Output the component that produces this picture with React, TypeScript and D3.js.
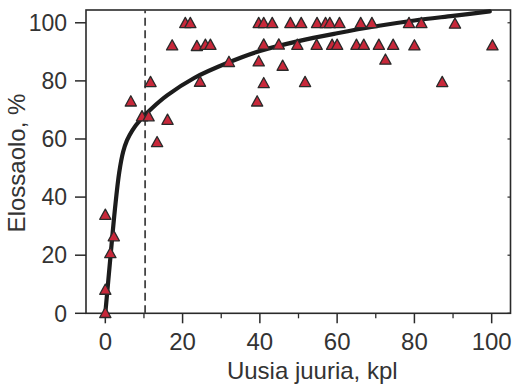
import React from "react";
import * as d3 from "d3";

const xTicks = [0, 20, 40, 60, 80, 100];
const xMinorTicks = [10, 30, 50, 70, 90];
const yTicks = [0, 20, 40, 60, 80, 100];

const xLabel = "Uusia juuria, kpl";
const yLabel = "Elossaolo, %";

// observed survival points (x = new roots, y = survival %)
const obsX = [
  20.7, 22, 39.7, 41, 43.2, 47.9, 50.7, 54.8, 57, 58.1, 60.6, 66.1, 69, 78.6, 81.8, 90.5,
  17.3, 23.7, 25.9, 27.2, 41, 44.9, 49.7, 54.7, 58.7, 60, 65, 66.9, 70.8, 74.5, 80, 100.2,
  0, 0, 1.3, 2.2, 0, 13.4, 6.6, 9.5, 11.2, 16.1, 11.7, 24.5, 32, 39.7, 45.9, 41, 39.3, 51.7,
  72.5, 87.2,
];
const obsY = [
  99.8, 99.8, 99.8, 99.8, 99.8, 99.8, 99.8, 99.8, 99.8, 99.8, 99.8, 99.8, 99.8, 99.8, 99.8, 99.6,
  92.1, 91.9, 92.3, 92.3, 92.4, 92.4, 92.3, 92.3, 92.3, 92.3, 92.3, 92.3, 92.3, 92.3, 92.1, 92.1,
  0, 8, 20.6, 26.4, 33.8, 58.8, 72.8, 67.7, 67.7, 66.5, 79.5, 79.6, 86.4, 86.6, 85.1, 79.1, 72.8, 79.5,
  87.2, 79.5,
];

// fitted curve
const fitX = [0, 1.3, 2.5, 3.6, 4.6, 5.6, 7, 9, 12, 16, 23, 32, 40, 50, 60, 70, 80, 90, 99.5];
const fitY = [0, 19, 36, 48.5, 55.5, 59.5, 63, 66.5, 70.5, 75, 81, 86.4, 90.3, 93.7, 96.4, 98.8, 100.8, 102.4, 103.9];

const thresholdX = 10.3;

export default function App() {
  const W = 512;
  const H = 387;
  const left = 86, right = 510.5, top = 10, bottom = 313.3;

  const x = d3.scaleLinear().domain([-5, 105]).range([left, right + 0.5]);
  const y = d3.scaleLinear().domain([0, 104.4]).range([bottom, top]);

  const fitData = fitX.map((v, i) => [v, fitY[i]] as [number, number]);
  const line = d3
    .line<[number, number]>()
    .x((d) => x(d[0]))
    .y((d) => Math.max(top + 1, y(d[1])))
    .curve(d3.curveCatmullRom.alpha(0.5));

  const tri = "M0,-6L5.6,4.2L-5.6,4.2Z";
  const axisColor = "#2a2a2a";
  const textColor = "#333";
  const font = "'Liberation Sans', Arial, Helvetica, sans-serif";

  return (
    <svg
      width={W}
      height={H}
      style={{ position: "absolute", left: 0, top: 0, display: "block", background: "#fff" }}
    >
      <rect x={0} y={0} width={W} height={H} fill="#fff" />
      {/* frame */}
      <rect
        x={left}
        y={top}
        width={right - left}
        height={bottom - top}
        fill="none"
        stroke={axisColor}
        strokeWidth={1.6}
      />
      {/* dashed threshold */}
      <line
        x1={x(thresholdX)}
        x2={x(thresholdX)}
        y1={bottom}
        y2={top}
        stroke="#444"
        strokeWidth={1.8}
        strokeDasharray="8,4.5"
      />
      {/* y ticks */}
      {yTicks.map((t) => (
        <g key={"y" + t}>
          <line x1={left - 11} x2={left} y1={y(t)} y2={y(t)} stroke={axisColor} strokeWidth={1.5} />
          <line x1={right - 3} x2={right} y1={y(t)} y2={y(t)} stroke={axisColor} strokeWidth={1.2} />
          <text
            x={left - 19}
            y={y(t)}
            dy="0.36em"
            textAnchor="end"
            fontFamily={font}
            fontSize={23}
            fill={textColor}
          >
            {t}
          </text>
        </g>
      ))}
      {/* x ticks */}
      {xTicks.map((t) => (
        <g key={"x" + t}>
          <line x1={x(t)} x2={x(t)} y1={bottom} y2={bottom + 10} stroke={axisColor} strokeWidth={1.5} />
          <text
            x={x(t)}
            y={bottom + 37}
            textAnchor="middle"
            fontFamily={font}
            fontSize={24}
            fill={textColor}
          >
            {t}
          </text>
        </g>
      ))}
      {xMinorTicks.map((t) => (
        <line key={"xm" + t} x1={x(t)} x2={x(t)} y1={bottom} y2={bottom + 5} stroke={axisColor} strokeWidth={1.3} />
      ))}
      {/* fitted curve */}
      <path d={line(fitData) || ""} fill="none" stroke="#1c1c1c" strokeWidth={4.2} strokeLinecap="round" />
      {/* points */}
      {obsX.map((v, i) => (
        <path
          key={"p" + i}
          d={tri}
          transform={`translate(${x(v)},${y(obsY[i])})`}
          fill="#c8283a"
          stroke="#2a2a2a"
          strokeWidth={1.3}
          strokeLinejoin="round"
        />
      ))}
      {/* axis titles */}
      <text
        x={(left + right) / 2 + 14}
        y={379}
        textAnchor="middle"
        fontFamily={font}
        fontSize={24}
        fill={textColor}
      >
        {xLabel}
      </text>
      <text
        transform={`translate(25,163) rotate(-90)`}
        textAnchor="middle"
        fontFamily={font}
        fontSize={24}
        fill={textColor}
      >
        {yLabel}
      </text>
    </svg>
  );
}
